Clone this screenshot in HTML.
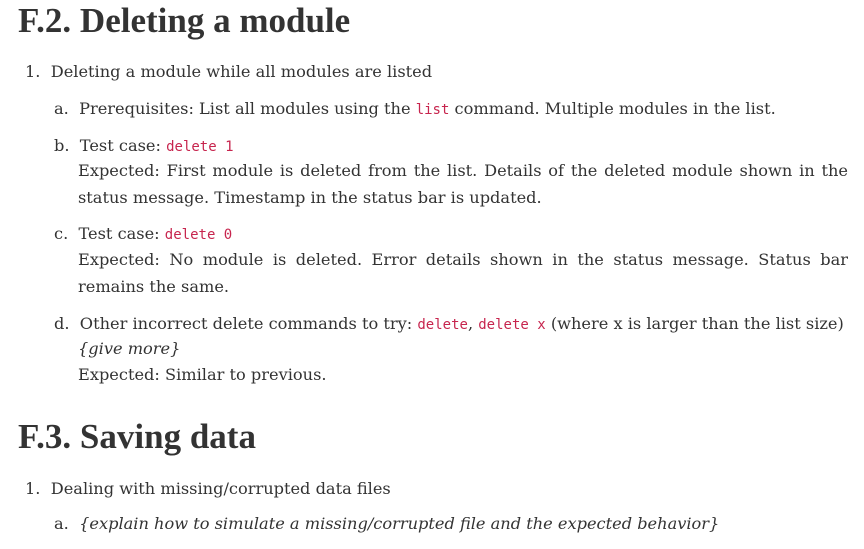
<!DOCTYPE html>
<html><head><meta charset="utf-8"><style>
body{margin:0;width:864px;height:549px;background:#fff;overflow:hidden;position:relative;font-family:"DejaVu Serif","Liberation Serif",serif;color:#333;font-size:16.2px}
.l{position:absolute;white-space:nowrap;line-height:20px}
.j{text-align:justify;text-align-last:justify;width:770px}
h1,h2{position:absolute;margin:0;font-family:"Liberation Serif",serif;font-size:35px;font-weight:bold;left:18px;line-height:40px;color:#333}
code{font-family:"DejaVu Sans Mono","Liberation Mono",monospace;color:#c7254e;font-size:14px}
</style></head><body>
<h1 style="top:1px">F.2. Deleting a module</h1>
<div class="l" style="left:25px;top:62px">1.&nbsp; Deleting a module while all modules are listed</div>
<div class="l" style="left:54px;top:99px">a.&nbsp; Prerequisites: List all modules using the <code>list</code> command. Multiple modules in the list.</div>
<div class="l" style="left:54px;top:136px">b.&nbsp; Test case: <code>delete 1</code></div>
<div class="l j" style="left:78px;top:161px">Expected: First module is deleted from the list. Details of the deleted module shown in the</div>
<div class="l" style="left:78px;top:188px">status message. Timestamp in the status bar is updated.</div>
<div class="l" style="left:54px;top:224px">c.&nbsp; Test case: <code>delete 0</code></div>
<div class="l j" style="left:78px;top:250px">Expected: No module is deleted. Error details shown in the status message. Status bar</div>
<div class="l" style="left:78px;top:277px">remains the same.</div>
<div class="l" style="left:54px;top:314px">d.&nbsp; Other incorrect delete commands to try: <code>delete</code>, <code>delete x</code> (where x is larger than the list size)</div>
<div class="l" style="left:78px;top:339px"><i>{give more}</i></div>
<div class="l" style="left:78px;top:365px">Expected: Similar to previous.</div>
<h2 style="top:417px">F.3. Saving data</h2>
<div class="l" style="left:25px;top:479px">1.&nbsp; Dealing with missing/corrupted data files</div>
<div class="l" style="left:54px;top:514px">a.&nbsp; <i>{explain how to simulate a missing/corrupted file and the expected behavior}</i></div>
</body></html>
